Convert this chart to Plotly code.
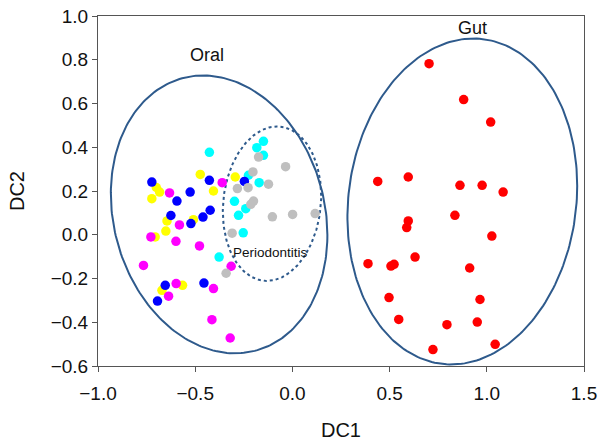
import numpy as np
import plotly.graph_objects as go

# ---- data ----
blue_x = [-0.723, -0.526, -0.594, -0.427, -0.247, -0.625, -0.423, -0.460, -0.522, -0.654, -0.694, -0.455]
blue_y = [0.241, 0.195, 0.154, 0.249, 0.244, 0.088, 0.112, 0.081, 0.051, -0.231, -0.303, -0.221]

yellow_x = [-0.700, -0.683, -0.723, -0.474, -0.406, -0.294, -0.509, -0.645, -0.651, -0.706, -0.671, -0.565]
yellow_y = [0.216, 0.195, 0.165, 0.276, 0.200, 0.264, 0.069, 0.063, 0.017, -0.010, -0.254, -0.231]

magenta_x = [-0.632, -0.361, -0.581, -0.728, -0.599, -0.478, -0.766, -0.315, -0.598, -0.637, -0.406, -0.414, -0.320]
magenta_y = [0.191, 0.238, 0.045, -0.010, -0.030, -0.051, -0.140, -0.144, -0.223, -0.281, -0.246, -0.388, -0.472]

cyan_x = [-0.427, -0.149, -0.183, -0.149, -0.226, -0.171, -0.298, -0.240, -0.277, -0.253, -0.377]
cyan_y = [0.377, 0.427, 0.398, 0.363, 0.272, 0.238, 0.153, 0.119, 0.089, 0.009, -0.102]

gray_x = [-0.174, -0.035, -0.203, -0.283, -0.228, -0.123, -0.200, -0.214, -0.103, 0.001, 0.117, -0.310, -0.341]
gray_y = [0.355, 0.311, 0.287, 0.211, 0.215, 0.231, 0.154, 0.139, 0.082, 0.093, 0.097, 0.007, -0.176]

red_x = [0.703, 0.881, 1.020, 0.439, 0.596, 0.862, 0.976, 1.084, 0.836, 0.596, 0.588, 1.026,
         0.631, 0.389, 0.507, 0.523, 0.912, 0.497, 0.965, 0.547, 0.795, 0.951, 0.723, 1.043]
red_y = [0.782, 0.618, 0.515, 0.244, 0.264, 0.226, 0.226, 0.195, 0.089, 0.063, 0.033, -0.006,
         -0.102, -0.132, -0.143, -0.135, -0.152, -0.287, -0.296, -0.387, -0.411, -0.399, -0.525, -0.501]

x_ticks = [-1.0, -0.5, 0.0, 0.5, 1.0, 1.5]
y_ticks = [-0.6, -0.4, -0.2, 0.0, 0.2, 0.4, 0.6, 0.8, 1.0]

# ellipses: center x, center y, half width, half height, x offset of top point
oral_ell = (-0.377, 0.093, 0.557, 0.635, -0.082)
gut_ell = (0.874, 0.152, 0.591, 0.745, 0.0565)
perio_ell = (-0.105, 0.142, 0.253, 0.353, 0.026)


def ellipse(cx, cy, X, Y, c, n=240):
    t = np.linspace(0, 2 * np.pi, n)
    sxy = c * Y
    l21 = sxy / X
    l22 = np.sqrt(Y ** 2 - l21 ** 2)
    ex = cx + X * np.cos(t)
    ey = cy + l21 * np.cos(t) + l22 * np.sin(t)
    return ex, ey


fig = go.Figure()

ell_color = "#2E5A8C"
for ell, dash in [(oral_ell, "solid"), (gut_ell, "solid"), (perio_ell, "dot")]:
    ex, ey = ellipse(*ell)
    fig.add_trace(go.Scatter(x=ex, y=ey, mode="lines",
                             line=dict(color=ell_color, width=2, dash=dash),
                             hoverinfo="skip", showlegend=False))

groups = [
    (red_x, red_y, "#FF0000"),
    (yellow_x, yellow_y, "#FFFF00"),
    (cyan_x, cyan_y, "#00FFFF"),
    (blue_x, blue_y, "#0000FF"),
    (magenta_x, magenta_y, "#FF00FF"),
    (gray_x, gray_y, "#BFBFBF"),
]
for gx, gy, col in groups:
    fig.add_trace(go.Scatter(x=gx, y=gy, mode="markers",
                             marker=dict(color=col, size=9.5, line=dict(width=0)),
                             showlegend=False))

font_family = "Liberation Sans, Arial, sans-serif"
fig.add_annotation(x=-0.439, y=0.82, text="Oral", showarrow=False,
                   font=dict(family=font_family, size=18, color="#111"))
fig.add_annotation(x=0.927, y=0.944, text="Gut", showarrow=False,
                   font=dict(family=font_family, size=18, color="#111"))
fig.add_annotation(x=-0.111, y=-0.079, text="Periodontitis", showarrow=False,
                   font=dict(family=font_family, size=13.5, color="#111"))

axis_common = dict(showgrid=False, zeroline=False, showline=True, linecolor="#555",
                   linewidth=1, mirror=True, ticks="outside", ticklen=5, tickcolor="#555",
                   automargin=False,
                   tickformat=".1f", tickfont=dict(family=font_family, size=19, color="#111"))

fig.update_layout(
    width=603, height=444,
    margin=dict(l=98, r=19, t=16, b=78),
    paper_bgcolor="white", plot_bgcolor="white",
    xaxis=dict(range=[-1.0, 1.5], tickvals=x_ticks, ticklabelstandoff=5,
               title=dict(text="DC1", font=dict(family=font_family, size=20, color="#111"), standoff=20),
               **axis_common),
    yaxis=dict(range=[-0.6, 1.0], tickvals=y_ticks,
               title=dict(text="DC2", font=dict(family=font_family, size=20, color="#111"), standoff=20),
               **axis_common),
)

fig.write_html("out.html")
